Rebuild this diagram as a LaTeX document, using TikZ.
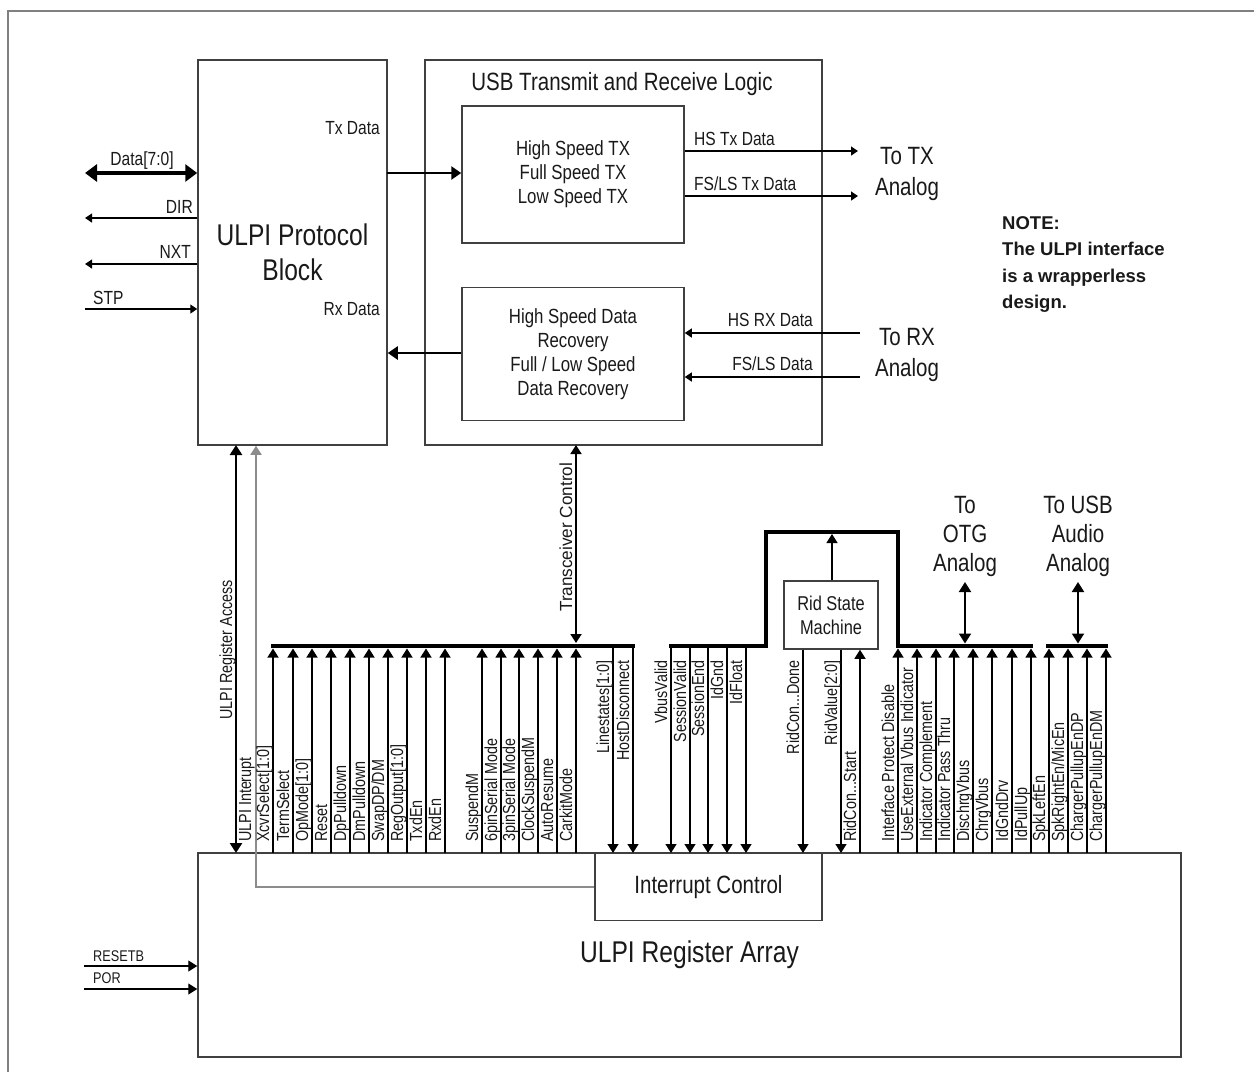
\documentclass[tikz,border=0pt]{standalone}
\usepackage{fontspec}
\setmainfont{Liberation Sans}[FakeStretch=0.82]
\newfontfamily\notefont{Liberation Sans}
\newfontfamily\widefont{Liberation Sans}[FakeStretch=0.98]
\usetikzlibrary{arrows.meta}
\begin{document}
\begin{tikzpicture}[x=1pt,y=-1pt,
  every node/.style={text=black!90},
  box/.style={draw=black!75,line width=1.5pt,inner sep=0pt,align=center},
  sig/.style={draw=black,line width=1.3pt},
  gsig/.style={draw=black!45,line width=1.8pt},
  bus/.style={draw=black,line width=4.5pt,line join=miter},
  tip/.style={-{Triangle[width=11pt,length=9pt]}},
  stip/.style={-{Triangle[width=9pt,length=7pt]}},
  dtip/.style={{Triangle[width=12pt,length=10pt]}-{Triangle[width=12pt,length=10pt]}},
  vlab/.style={rotate=90,inner sep=0pt,font=\fontsize{17.5}{20}\selectfont},
  plab/.style={inner sep=0pt,font=\fontsize{19}{22}\selectfont},
  blab/.style={inner sep=0pt,align=center,font=\fontsize{25}{31}\selectfont}]
\useasboundingbox (0,0) rectangle (1254,1072);
% outer frame
\draw[black!50,line width=2pt] (8,1072) -- (8,11) -- (1254,11);

% ---------- upper blocks ----------
\node[box,minimum width=189pt,minimum height=385pt,font=\fontsize{30}{35}\selectfont] (ulpi) at (292.5,252.5) {ULPI Protocol\\Block};
\node[box,minimum width=397pt,minimum height=385pt] (usb) at (623.5,252.5) {};
\node[inner sep=0pt,font=\fontsize{25}{30}\selectfont] (usbt) at (622,84) {USB Transmit and Receive Logic};
\node[box,minimum width=222pt,minimum height=137pt,font=\fontsize{20.5}{24}\selectfont] (tx) at (573,174.5) {High Speed TX\\Full Speed TX\\Low Speed TX};
\node[box,minimum width=222pt,minimum height=133pt,font=\fontsize{20.5}{24}\selectfont] (rx) at (573,354) {High Speed Data\\Recovery\\Full / Low Speed\\Data Recovery};

% left pins
\coordinate (dataL) at (85,173);
\coordinate (dirL) at (85,218);
\coordinate (nxtL) at (85,264);
\coordinate (stpL) at (85,309);
\draw[line width=4pt,{Triangle[width=17pt,length=12pt]}-{Triangle[width=17pt,length=12pt]}] (dataL) -- (dataL -| ulpi.west);
\draw[sig,stip] (dirL -| ulpi.west) -- (dirL);
\draw[sig,stip] (nxtL -| ulpi.west) -- (nxtL);
\draw[sig,stip] (stpL) -- (stpL -| ulpi.west);
\node[plab,anchor=base] (datalab) at (142,165) {Data[7:0]};
\node[plab,anchor=base east] (dirlab) at (193,213) {DIR};
\node[plab,anchor=base east] (nxtlab) at (191,258) {NXT};
\node[plab,anchor=base west] (stplab) at (93,304) {STP};
\node[plab,anchor=base east] (txdlab) at (380,134) {Tx Data};
\node[plab,anchor=base east] (rxdlab) at (380,315) {Rx Data};

% internal data paths
\coordinate (txa) at (387,173);
\coordinate (rxa) at (461,353);
\draw[line width=2.8pt,-{Triangle[width=13pt,length=10pt]}] (txa) -- (txa -| tx.west);
\draw[line width=2.4pt,-{Triangle[width=13pt,length=10pt]}] (rxa) -- (rxa -| ulpi.east);

% analog side
\coordinate (hstx) at (858,151);
\coordinate (fstx) at (858,196);
\coordinate (hsrx) at (860,333);
\coordinate (fsrx) at (860,377);
\draw[sig,stip] (hstx -| tx.east) -- (hstx);
\draw[sig,stip] (fstx -| tx.east) -- (fstx);
\draw[sig,stip] (hsrx) -- (hsrx -| rx.east);
\draw[sig,stip] (fsrx) -- (fsrx -| rx.east);
\node[plab,anchor=base west] (hstxlab) at (694,145) {HS Tx Data};
\node[plab,anchor=base west] (fstxlab) at (694,190) {FS/LS Tx Data};
\node[plab,anchor=base east] (hsrxlab) at (813,326) {HS RX Data};
\node[plab,anchor=base east] (fsrxlab) at (813,370) {FS/LS Data};
\node[blab] (totx) at (907,174) {To TX\\Analog};
\node[blab] (torx) at (907,355) {To RX\\Analog};

% note
\node[anchor=north west,align=left,inner sep=0pt,font=\notefont\bfseries\fontsize{18.5}{26.5}\selectfont] (note) at (1002,216) {NOTE:\\The ULPI interface\\is a wrapperless\\design.};

% ---------- lower blocks ----------
\node[box,minimum width=983pt,minimum height=204pt,font=\fontsize{30}{35}\selectfont] (reg) at (689.5,955) {ULPI Register Array};
\node[box,fill=white,minimum width=227pt,minimum height=67pt,font=\fontsize{25}{30}\selectfont] (ic) at (708.5,887) {Interrupt Control};
\node[box,minimum width=94pt,minimum height=68pt,font=\fontsize{20}{24}\selectfont] (rid) at (831,615) {Rid State\\Machine};

% register access and interrupt
\coordinate (uraT) at (236,445);
\coordinate (uraB) at (236,853);
\draw[line width=2.6pt,dtip] (uraT) -- (uraB);
\node[vlab,anchor=base west] (uralab) at (232,720) {ULPI Register Access};
\coordinate (intc) at (256,887);
\draw[gsig,-{Triangle[width=11pt,length=9pt]}] (ic.west) -- (intc) -- (intc |- ulpi.south);
\node[vlab,anchor=base west] (intlab) at (251,842) {ULPI Interupt};

% transceiver control
\coordinate (tcT) at (576,445);
\coordinate (tcB) at (576,643);
\draw[line width=1.8pt,{Triangle[width=11pt,length=9pt]}-{Triangle[width=11pt,length=9pt]}] (tcT) -- (tcB);
\node[rotate=90,inner sep=0pt,anchor=base west,font=\widefont\fontsize{17.5}{20}\selectfont] (tclab) at (572,612) {Transceiver Control};

% buses
\coordinate (b1s) at (271,646);
\coordinate (b1e) at (635,646);
\draw[bus] (b1s) -- (b1e);
\coordinate (b2s) at (669,646);
\coordinate (b2a) at (766,646);
\coordinate (b2b) at (766,532);
\coordinate (b2c) at (898,532);
\coordinate (b2d) at (898,646);
\coordinate (b2e) at (1033,646);
\draw[bus] (b2s) -- (b2a) -- (b2b) -- (b2c) -- (b2d) -- (b2e);
\coordinate (b3s) at (1046,646);
\coordinate (b3e) at (1108,646);
\draw[bus] (b3s) -- (b3e);

% signals into the bus (upwards)
\foreach \x/\t in {273/{XcvrSelect[1:0]},293/TermSelect,312/{OpMode[1:0]},331/Reset,350/DpPulldown,369/DmPulldown,388/{SwapDP/DM},407/{RegOutput[1:0]},426/TxdEn,445/RxdEn,482/SuspendM,501/6pinSerial Mode,519/3pinSerial Mode,538/ClockSuspendM,557/AutoResume,576/CarkitMode,898/Interface Protect Disable,917/UseExternal Vbus Indicator,936/Indicator Complement,954/Indicator Pass Thru,973/DischrgVbus,992/ChrgVbus,1012/IdGndDrv,1031/IdPullUp,1049/SpkLeftEn,1068/{SpkRightEn/MicEn},1087/ChargerPullupEnDP,1106/ChargerPullupEnDM}{
  \coordinate (ub\x) at (\x,853);
  \coordinate (ut\x) at (\x,648.5);
  \draw[sig,tip] (ub\x) -- (ut\x);
  \node[vlab,anchor=base west] (l\x) at (\x-4,842) {\t};
}
% signals from the bus (downwards)
\foreach \x/\t in {613/{Linestates[1:0]},633/HostDisconnect,671/VbusValid,690/SessionValid,708/SessionEnd,727/IdGnd,746/IdFloat}{
  \coordinate (dt\x) at (\x,646);
  \coordinate (db\x) at (\x,853);
  \draw[sig,tip] (dt\x) -- (db\x);
  \node[vlab,anchor=base east] (l\x) at (\x-4,660) {\t};
}
% Rid state machine signals
\coordinate (ridd) at (803,853);
\coordinate (ridv) at (841,853);
\coordinate (rids) at (860,853);
\coordinate (ridu) at (832,534);
\draw[sig,tip] (ridd |- rid.south) -- (ridd);
\draw[sig,tip] (ridv |- rid.south) -- (ridv);
\draw[sig,tip] (rids) -- (rids |- rid.south);
\draw[sig,tip] (ridu |- rid.north) -- (ridu);
\node[vlab,anchor=base east] (ldone) at (799,660) {RidCon...Done};
\node[vlab,anchor=base east] (lval) at (837,660) {RidValue[2:0]};
\node[vlab,anchor=base west] (lstart) at (856,842) {RidCon...Start};

% analog connections of the buses
\node[blab,font=\fontsize{25}{29}\selectfont] (otg) at (965,536) {To\\OTG\\Analog};
\node[blab,font=\fontsize{25}{29}\selectfont] (aud) at (1078,536) {To USB\\Audio\\Analog};
\coordinate (otgT) at (965,582);
\coordinate (otgB) at (965,643.5);
\coordinate (audT) at (1078,582);
\coordinate (audB) at (1078,643.5);
\draw[line width=2pt,dtip] (otgT) -- (otgB);
\draw[line width=2pt,dtip] (audT) -- (audB);

% reset inputs
\coordinate (rstL) at (84,966);
\coordinate (porL) at (84,989);
\draw[sig,tip] (rstL) -- (rstL -| reg.west);
\draw[sig,tip] (porL) -- (porL -| reg.west);
\node[inner sep=0pt,anchor=base west,font=\fontsize{15.5}{18}\selectfont] (rstlab) at (93,961) {RESETB};
\node[inner sep=0pt,anchor=base west,font=\fontsize{15.5}{18}\selectfont] (porlab) at (93,983) {POR};
\end{tikzpicture}
\end{document}
